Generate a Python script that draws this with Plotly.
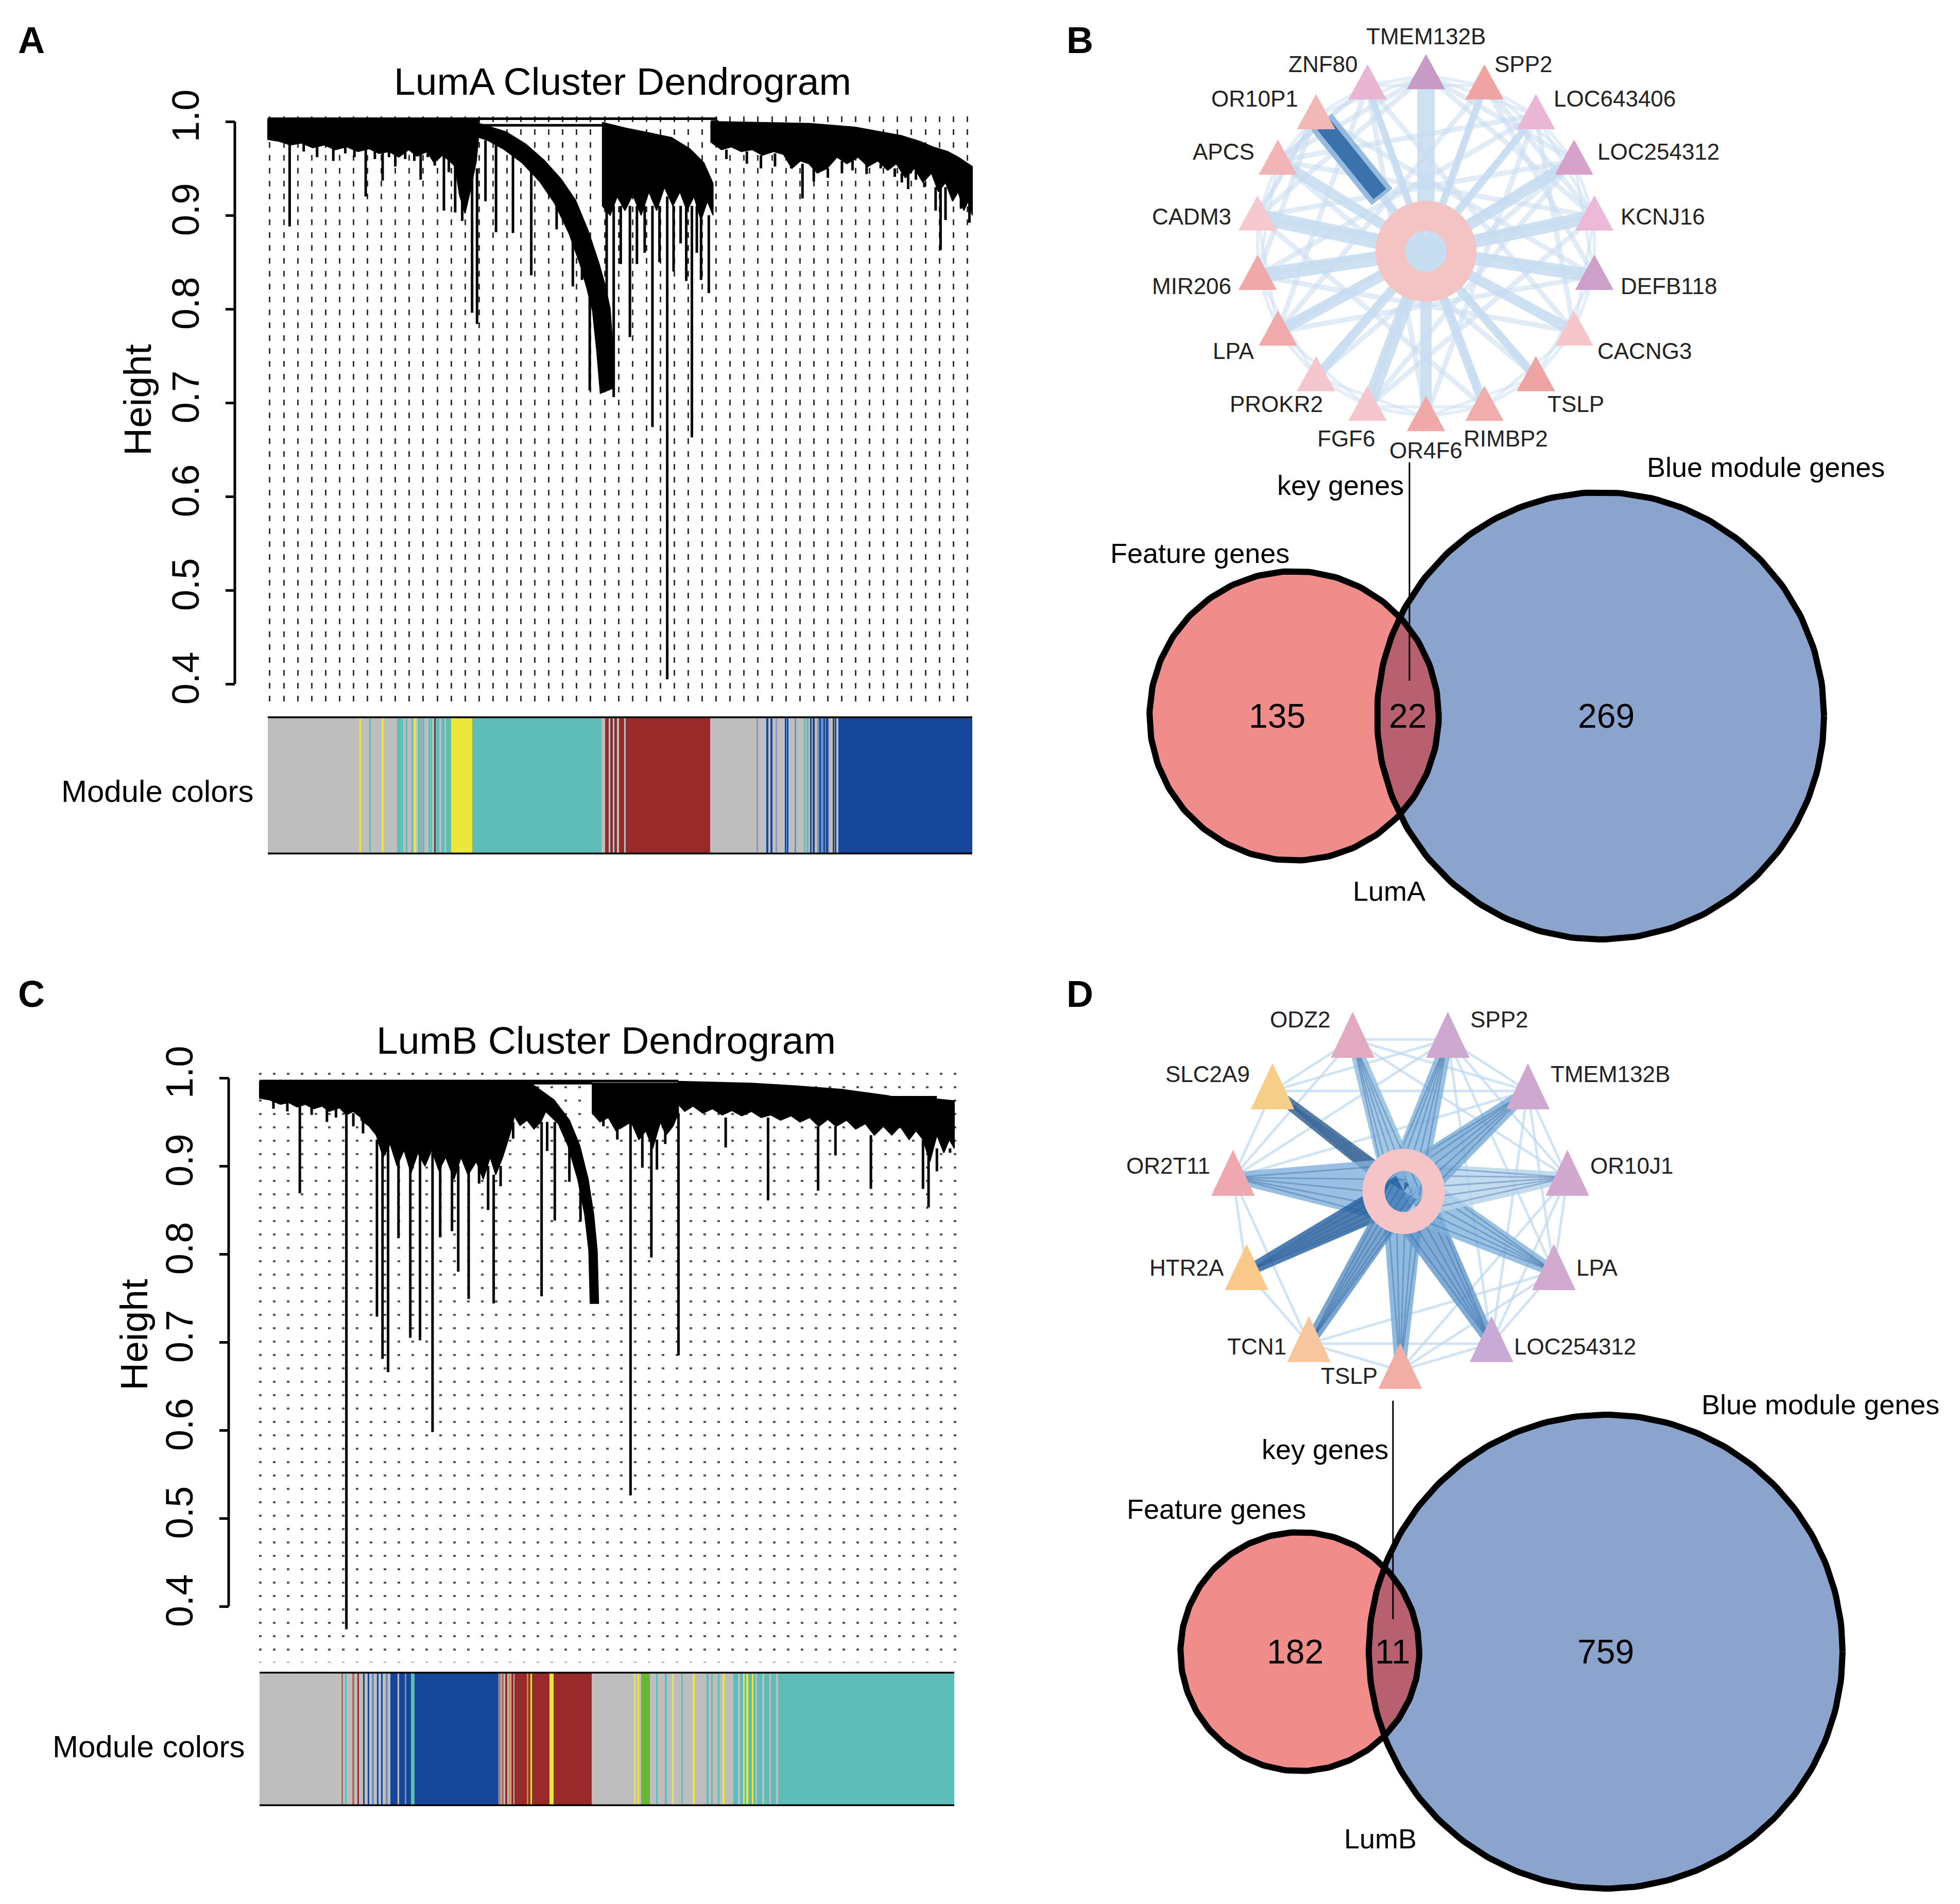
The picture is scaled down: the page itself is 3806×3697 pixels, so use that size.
import numpy as np
import plotly.graph_objects as go

W, H = 3806, 3697
FONT = "Liberation Sans, Arial, Helvetica, sans-serif"

# ======================= DATA =======================
HEIGHT_TICKS = [0.4, 0.5, 0.6, 0.7, 0.8, 0.9, 1.0]
HEIGHT_TICK_TEXT = ["0.4", "0.5", "0.6", "0.7", "0.8", "0.9", "1.0"]

# LumA dendrogram: x = position along ordered genes (0..1), y = height
A_blob_left = [(0.000,1.003),(0.300,1.003),(0.300,0.990),(0.296,0.958),(0.288,0.928),(0.280,0.902),(0.272,0.922),
               (0.266,0.952),(0.258,0.958),(0.248,0.964),(0.236,0.956),(0.226,0.968),(0.212,0.963),(0.200,0.970),
               (0.186,0.962),(0.172,0.968),(0.158,0.966),(0.144,0.971),(0.128,0.968),(0.112,0.973),(0.096,0.970),
               (0.080,0.975),(0.064,0.972),(0.048,0.977),(0.032,0.975),(0.016,0.979),(0.000,0.981)]
A_blob_arc = [(0.300,0.998),(0.338,0.989),(0.366,0.976),(0.392,0.959),(0.416,0.939),(0.437,0.916),(0.455,0.883),
              (0.470,0.849),(0.479,0.825),(0.486,0.800),(0.490,0.756),(0.492,0.716),(0.472,0.710),(0.467,0.755),
              (0.461,0.798),(0.453,0.822),(0.444,0.846),(0.428,0.880),(0.407,0.913),(0.386,0.936),(0.361,0.956),
              (0.336,0.970),(0.312,0.980),(0.300,0.983)]
A_blob_red = [(0.475,0.999),(0.508,0.993),(0.541,0.988),(0.573,0.983),(0.599,0.971),(0.619,0.956),(0.632,0.934),
              (0.632,0.900),(0.624,0.915),(0.615,0.895),(0.605,0.920),(0.595,0.905),(0.585,0.925),(0.575,0.910),
              (0.563,0.930),(0.552,0.905),(0.541,0.925),(0.530,0.900),(0.518,0.922),(0.507,0.905),(0.496,0.920),
              (0.486,0.900),(0.475,0.910)]
A_blob_right = [(0.629,1.000),(0.700,0.999),(0.770,0.998),(0.834,0.994),(0.870,0.989),(0.899,0.985),(0.925,0.979),
                (0.944,0.973),(0.965,0.968),(0.980,0.962),(0.990,0.957),(1.000,0.952),(1.000,0.900),(0.994,0.915),
                (0.988,0.905),(0.980,0.925),(0.972,0.915),(0.962,0.935),(0.952,0.925),(0.942,0.945),(0.930,0.935),
                (0.918,0.950),(0.905,0.940),(0.892,0.955),(0.880,0.948),(0.866,0.958),(0.852,0.952),(0.838,0.962),
                (0.822,0.955),(0.808,0.962),(0.794,0.950),(0.780,0.945),(0.768,0.955),(0.756,0.958),(0.744,0.950),
                (0.732,0.965),(0.718,0.968),(0.702,0.964),(0.688,0.970),(0.672,0.968),(0.658,0.973),(0.644,0.970),
                (0.629,0.978)]
A_drops = [(0.031,0.980,0.888),(0.051,0.978,0.968),(0.070,0.975,0.962),(0.093,0.973,0.958),(0.110,0.975,0.966),
           (0.123,0.974,0.962),(0.139,0.972,0.920),(0.152,0.972,0.960),(0.163,0.970,0.937),(0.172,0.970,0.962),
           (0.181,0.968,0.952),(0.195,0.972,0.960),(0.208,0.970,0.958),(0.217,0.970,0.938),(0.227,0.970,0.962),
           (0.237,0.962,0.953),(0.250,0.965,0.905),(0.257,0.962,0.946),(0.266,0.955,0.903),(0.276,0.930,0.894),
           (0.290,0.950,0.796),(0.297,0.950,0.784),(0.309,0.980,0.915),(0.324,0.975,0.882),
           (0.348,0.968,0.881),(0.374,0.956,0.836),(0.410,0.935,0.885),(0.433,0.912,0.824),(0.446,0.885,0.831),
           (0.457,0.850,0.713),(0.478,0.760,0.722),
           (0.481,0.910,0.755),(0.491,0.910,0.706),(0.501,0.910,0.848),(0.514,0.910,0.770),(0.524,0.910,0.848),
           (0.535,0.910,0.860),(0.546,0.910,0.674),(0.556,0.910,0.850),(0.567,0.920,0.405),(0.576,0.910,0.840),
           (0.586,0.910,0.870),(0.594,0.910,0.830),(0.602,0.910,0.663),(0.609,0.910,0.860),(0.615,0.900,0.831),
           (0.626,0.900,0.817),
           (0.651,0.970,0.960),(0.680,0.968,0.955),(0.700,0.964,0.950),(0.720,0.966,0.952),(0.743,0.960,0.950),
           (0.759,0.955,0.918),(0.775,0.950,0.936),(0.795,0.950,0.940),(0.815,0.958,0.945),(0.830,0.960,0.948),
           (0.850,0.955,0.944),(0.870,0.955,0.950),(0.890,0.950,0.941),(0.900,0.945,0.935),(0.909,0.945,0.928),
           (0.920,0.948,0.938),(0.932,0.935,0.930),(0.948,0.930,0.905),(0.955,0.930,0.863),(0.962,0.930,0.895),
           (0.984,0.920,0.907),(0.996,0.920,0.892)]
A_merges = [(0.000,0.638,1.003),(0.300,0.475,0.996),(0.629,0.640,1.000)]

# LumB dendrogram
C_blob_left = [(0.000,0.9965),(0.146,0.9965),(0.146,0.955),(0.135,0.962),(0.125,0.958),(0.115,0.966),(0.100,0.962),
               (0.090,0.968),(0.078,0.965),(0.066,0.970),(0.054,0.967),(0.042,0.972),(0.030,0.970),(0.015,0.975),
               (0.000,0.977)]
C_blob_dense = [(0.146,0.9965),(0.368,0.9965),(0.368,0.960),(0.360,0.935),(0.350,0.910),(0.340,0.890),(0.332,0.910),
                (0.322,0.885),(0.312,0.905),(0.300,0.890),(0.290,0.910),(0.280,0.885),(0.268,0.910),(0.258,0.895),
                (0.248,0.918),(0.238,0.900),(0.228,0.915),(0.218,0.892),(0.208,0.918),(0.198,0.900),(0.188,0.925),
                (0.178,0.910),(0.168,0.935),(0.158,0.945),(0.146,0.952)]
C_blob_arc = [(0.368,0.9965),(0.394,0.992),(0.424,0.975),(0.446,0.952),(0.461,0.923),(0.473,0.885),(0.481,0.845),
              (0.486,0.804),(0.488,0.744),(0.476,0.744),(0.474,0.804),(0.468,0.845),(0.458,0.885),(0.444,0.923),
              (0.430,0.948),(0.412,0.962),(0.405,0.950),(0.395,0.942),(0.385,0.952),(0.375,0.946),(0.368,0.955)]
C_blob_mid = [(0.479,0.994),(0.603,0.994),(0.603,0.960),(0.595,0.945),(0.585,0.935),(0.577,0.950),(0.566,0.920),
              (0.556,0.940),(0.546,0.930),(0.535,0.950),(0.524,0.945),(0.513,0.940),(0.502,0.955),(0.490,0.950),
              (0.479,0.960)]
C_blob_right = [(0.603,0.996),(0.707,0.994),(0.772,0.991),(0.838,0.987),(0.903,0.980),(0.916,0.978),(0.975,0.976),
                (1.000,0.974),(1.000,0.920),(0.993,0.930),(0.985,0.915),(0.975,0.935),(0.965,0.905),(0.955,0.930),
                (0.945,0.940),(0.935,0.930),(0.922,0.945),(0.910,0.935),(0.898,0.945),(0.885,0.935),(0.872,0.948),
                (0.858,0.942),(0.845,0.952),(0.830,0.945),(0.818,0.953),(0.805,0.945),(0.792,0.955),(0.778,0.950),
                (0.765,0.957),(0.750,0.952),(0.736,0.958),(0.722,0.955),(0.708,0.962),(0.694,0.957),(0.680,0.963),
                (0.666,0.958),(0.652,0.965),(0.638,0.960),(0.624,0.968),(0.612,0.962),(0.603,0.970)]
C_drops = [(0.020,0.975,0.965),(0.040,0.972,0.962),(0.058,0.970,0.869),(0.075,0.968,0.958),(0.097,0.965,0.950),
           (0.110,0.965,0.955),(0.125,0.965,0.374),(0.135,0.960,0.945),(0.149,0.955,0.937),
           (0.169,0.930,0.729),(0.177,0.930,0.681),(0.185,0.930,0.666),(0.200,0.920,0.818),(0.217,0.920,0.705),
           (0.231,0.920,0.702),(0.249,0.915,0.598),(0.260,0.910,0.819),(0.277,0.900,0.826),(0.286,0.900,0.780),
           (0.301,0.900,0.749),(0.316,0.900,0.880),(0.329,0.900,0.850),(0.337,0.890,0.744),(0.347,0.900,0.877),
           (0.365,0.950,0.931),(0.406,0.950,0.752),(0.414,0.950,0.917),(0.425,0.950,0.838),(0.446,0.930,0.882),
           (0.462,0.890,0.837),
           (0.495,0.960,0.945),(0.515,0.950,0.930),(0.534,0.950,0.526),(0.551,0.940,0.898),(0.564,0.930,0.796),
           (0.572,0.930,0.896),(0.584,0.940,0.925),(0.603,0.960,0.685),
           (0.671,0.955,0.921),(0.732,0.955,0.861),(0.804,0.945,0.872),(0.829,0.945,0.912),(0.880,0.935,0.874),
           (0.955,0.930,0.874),(0.963,0.920,0.853),(0.975,0.920,0.894),(0.994,0.920,0.915)]
C_merges = [(0.000,0.603,0.9965),(0.368,0.479,0.994),(0.909,0.975,0.978),(0.948,0.968,0.956)]

# Module colour bars: blocks (start, end, module) and thin stripes (position, module)
MODULE_COLORS = {"grey": "#BEBEBE", "turquoise": "#5FBDB9", "blue": "#17479A", "red": "#9A2A2A",
                 "yellow": "#ECE83B", "green": "#6AB733", "brown": "#B46A60", "orange": "#D08A40",
                 "lightblue": "#6F8FC4", "bluegrey": "#8898BE"}
A_mod_blocks = [(0.000,0.260,"grey"),(0.236,0.260,"turquoise"),(0.260,0.290,"yellow"),(0.290,0.474,"turquoise"),
                (0.474,0.479,"grey"),(0.479,0.628,"red"),(0.628,0.810,"grey"),(0.780,0.797,"lightblue"),
                (0.810,1.000,"blue")]
A_mod_stripes = [(0.131,"yellow"),(0.145,"turquoise"),(0.163,"yellow"),(0.185,"turquoise"),(0.188,"turquoise"),
                 (0.191,"turquoise"),(0.197,"turquoise"),(0.205,"turquoise"),(0.209,"yellow"),(0.215,"turquoise"),
                 (0.218,"turquoise"),(0.221,"turquoise"),(0.229,"turquoise"),(0.232,"turquoise"),(0.237,"red"),
                 (0.245,"grey"),(0.252,"grey"),(0.485,"grey"),(0.491,"grey"),(0.497,"grey"),(0.507,"grey"),
                 (0.695,"bluegrey"),(0.709,"blue"),(0.715,"blue"),(0.722,"bluegrey"),(0.735,"blue"),(0.738,"blue"),
                 (0.749,"lightblue"),(0.762,"turquoise"),(0.766,"turquoise"),(0.771,"blue"),(0.775,"blue"),
                 (0.784,"blue"),(0.790,"blue"),(0.794,"blue"),(0.803,"blue"),(0.806,"blue")]
C_mod_blocks = [(0.000,0.188,"grey"),(0.188,0.218,"blue"),(0.218,0.223,"turquoise"),(0.223,0.344,"blue"),
                (0.344,0.367,"grey"),(0.367,0.478,"red"),(0.417,0.423,"yellow"),(0.478,0.549,"grey"),
                (0.549,0.562,"green"),(0.562,0.682,"grey"),(0.682,1.000,"turquoise")]
C_mod_stripes = [(0.119,"brown"),(0.124,"turquoise"),(0.135,"brown"),(0.142,"red"),(0.150,"blue"),(0.157,"blue"),
                 (0.163,"lightblue"),(0.170,"blue"),(0.176,"blue"),(0.183,"lightblue"),(0.200,"grey"),
                 (0.210,"lightblue"),(0.346,"brown"),(0.350,"brown"),(0.355,"red"),(0.360,"orange"),(0.364,"red"),
                 (0.386,"orange"),(0.391,"yellow"),(0.540,"yellow"),(0.545,"yellow"),(0.572,"turquoise"),
                 (0.585,"turquoise"),(0.595,"yellow"),(0.608,"turquoise"),(0.625,"yellow"),(0.645,"turquoise"),
                 (0.651,"turquoise"),(0.661,"turquoise"),(0.668,"yellow"),(0.690,"grey"),(0.697,"yellow"),
                 (0.702,"yellow"),(0.710,"yellow"),(0.715,"grey"),(0.725,"grey"),(0.735,"grey"),(0.745,"grey")]

# Network B (LumA key genes), clockwise from top
B_genes = ["TMEM132B","SPP2","LOC643406","LOC254312","KCNJ16","DEFB118","CACNG3","TSLP","RIMBP2",
           "OR4F6","FGF6","PROKR2","LPA","MIR206","CADM3","APCS","OR10P1","ZNF80"]
B_node_colors = ["#C89BC6","#F0A3A3","#E9B6D5","#D6A1CB","#EDB9D9","#CCA0C8","#F5C6CA","#EFA3A3","#F1ACAC",
                 "#F0A8A8","#F5C6CE","#F5C6CE","#F0AAAA","#F0A8A8","#F5C9CD","#F2B5B5","#F2B8B8","#E9B5D2"]
B_hub_weight = [34,14,14,22,26,26,20,16,18,22,26,18,22,28,30,20,14,14]
B_cross = [("TMEM132B","LOC254312"),("TMEM132B","KCNJ16"),("TMEM132B","CADM3"),("TMEM132B","APCS"),
           ("SPP2","KCNJ16"),("SPP2","LPA"),("SPP2","DEFB118"),("LOC643406","CACNG3"),("LOC643406","MIR206"),
           ("LOC643406","APCS"),("LOC254312","LPA"),("LOC254312","CADM3"),("LOC254312","PROKR2"),
           ("KCNJ16","APCS"),("KCNJ16","MIR206"),("KCNJ16","FGF6"),("DEFB118","CADM3"),("DEFB118","OR10P1"),
           ("DEFB118","LPA"),("CACNG3","MIR206"),("CACNG3","ZNF80"),("TSLP","APCS"),("TSLP","OR10P1"),
           ("RIMBP2","ZNF80"),("RIMBP2","CADM3"),("OR4F6","ZNF80"),("OR4F6","LOC643406"),("FGF6","SPP2"),
           ("FGF6","LOC254312"),("PROKR2","LOC643406"),("LPA","ZNF80"),("MIR206","OR10P1"),
           ("CADM3","OR10P1"),("APCS","ZNF80")]
B_strong = ["OR10P1"]

# Network D (LumB key genes), counter-clockwise from bottom
D_genes = ["TSLP","LOC254312","LPA","OR10J1","TMEM132B","SPP2","ODZ2","SLC2A9","OR2T11","HTR2A","TCN1"]
D_node_colors = ["#F2ADA5","#C9A9D5","#D2A9CF","#D3A8CE","#CFA8D0","#CFA8D0","#E2A9C0","#F7CE88","#EFA8B0",
                 "#F8C98A","#F7C59E"]
D_hub_weight = [0.13,0.15,0.15,0.17,0.14,0.12,0.11,0.05,0.20,0.10,0.09]
D_hub_colors = ["#74AAD8","#5F97CC","#80B2DC","#B5D3EC","#76AAD8","#7FB1DB","#8CBBE0","#2C5B8E","#80B1DB",
                "#235F9E","#5790C6"]
D_cross = [("ODZ2","SPP2"),("ODZ2","TMEM132B"),("SPP2","TMEM132B"),("SPP2","OR10J1"),("SPP2","LPA"),
           ("TMEM132B","OR10J1"),("TMEM132B","LPA"),("TMEM132B","LOC254312"),("OR10J1","LPA"),
           ("OR10J1","LOC254312"),("OR10J1","TSLP"),("LPA","LOC254312"),("LPA","TCN1"),("LPA","TSLP"),
           ("TCN1","LOC254312"),("TSLP","LOC254312"),("TSLP","TCN1"),("OR2T11","SLC2A9"),("OR2T11","ODZ2"),
           ("OR2T11","SPP2"),("OR2T11","HTR2A"),("OR2T11","TMEM132B"),("OR2T11","TCN1"),("SLC2A9","ODZ2"),
           ("SLC2A9","SPP2"),("SLC2A9","TMEM132B"),("HTR2A","TCN1"),("ODZ2","OR10J1"),("SPP2","LOC254312")]

# Venn counts
VENN_B = {"feature_only": 135, "both": 22, "module_only": 269, "group": "LumA"}
VENN_D = {"feature_only": 182, "both": 11, "module_only": 759, "group": "LumB"}

# ======================= FIGURE =======================
fig = go.Figure()
annotations = []
shapes = []


def xdom(a, b):
    return [a / W, b / W]


def ydom(top, bottom):
    return [1 - bottom / H, 1 - top / H]


def ax_name(n, kind):
    return kind if n == 1 else f"{kind}{n}"


def ref(n, kind):
    return kind if n == 1 else f"{kind}{n}"


def hidden_axes(n, xd, yd, xr, yr):
    fig.layout[ax_name(n, "xaxis")] = dict(domain=xd, range=xr, visible=False, anchor=ref(n, "y"),
                                           fixedrange=True, automargin=False)
    fig.layout[ax_name(n, "yaxis")] = dict(domain=yd, range=yr, visible=False, anchor=ref(n, "x"),
                                           fixedrange=True, automargin=False)


# ---------- dendrogram panels ----------
def dendro_panel(n, leaf_px, h_px, dom_x_px, dom_y_px, axis_x_px, blobs, drops, merges, grid):
    l0, l1 = leaf_px
    top1, bot04 = h_px  # pixel of h=1.0 and h=0.4
    fx = lambda p: (p - l0) / (l1 - l0)
    fh = lambda p: 1.0 - (p - top1) / (bot04 - top1) * 0.6
    fig.layout[ax_name(n, "xaxis")] = dict(
        domain=xdom(*dom_x_px), range=[fx(dom_x_px[0]), fx(dom_x_px[1])], anchor=ref(n, "y"),
        showticklabels=False, ticks="", showline=False, zeroline=False, fixedrange=True, automargin=False,
        showgrid=True, tick0=grid["tick0"], dtick=grid["dtick"], gridcolor=grid["color"],
        gridwidth=grid["width"], griddash=grid["dash"])
    fig.layout[ax_name(n, "yaxis")] = dict(
        domain=ydom(*dom_y_px), range=[fh(dom_y_px[1]), fh(dom_y_px[0])], anchor="free",
        position=axis_x_px / W, showgrid=False, zeroline=False, showline=False, fixedrange=True,
        automargin=False, ticks="outside", ticklen=18, tickwidth=5, tickcolor="black",
        tickvals=HEIGHT_TICKS, ticktext=HEIGHT_TICK_TEXT, tickangle=-90,
        tickfont=dict(size=74, family=FONT, color="black"), ticklabelstandoff=22)
    shapes.append(dict(type="line", xref="paper", yref=ref(n, "y"), x0=axis_x_px / W, x1=axis_x_px / W,
                       y0=0.4, y1=1.0, line=dict(color="black", width=5), layer="above"))
    for poly in blobs:
        xs = [p[0] for p in poly] + [poly[0][0]]
        ys = [p[1] for p in poly] + [poly[0][1]]
        fig.add_trace(go.Scatter(x=xs, y=ys, mode="lines", fill="toself", fillcolor="black",
                                 line=dict(color="black", width=2), xaxis=ref(n, "x"), yaxis=ref(n, "y"),
                                 hoverinfo="skip"))
    xs, ys = [], []
    for f, t, b in drops:
        xs += [f, f, None]
        ys += [t, b, None]
    fig.add_trace(go.Scatter(x=xs, y=ys, mode="lines", line=dict(color="black", width=5),
                             xaxis=ref(n, "x"), yaxis=ref(n, "y"), hoverinfo="skip"))
    xs, ys = [], []
    for a, b, h in merges:
        xs += [a, b, None]
        ys += [h, h, None]
    fig.add_trace(go.Scatter(x=xs, y=ys, mode="lines", line=dict(color="black", width=5),
                             xaxis=ref(n, "x"), yaxis=ref(n, "y"), hoverinfo="skip"))


def color_bar(n, leaf_px, dom_x_px, dom_y_px, blocks, stripes):
    l0, l1 = leaf_px
    fx = lambda p: (p - l0) / (l1 - l0)
    hidden_axes(n, xdom(*dom_x_px), ydom(*dom_y_px), [fx(dom_x_px[0]), fx(dom_x_px[1])], [-0.5, 0.5])
    starts = [b[0] for b in blocks] + [s[0] - 0.00125 for s in stripes]
    widths = [b[1] - b[0] for b in blocks] + [0.0025 for s in stripes]
    cols = [MODULE_COLORS[b[2]] for b in blocks] + [MODULE_COLORS[s[1]] for s in stripes]
    fig.add_trace(go.Bar(y=[0] * len(starts), x=widths, base=starts, orientation="h", width=1.0,
                         marker=dict(color=cols, line=dict(width=0)), xaxis=ref(n, "x"), yaxis=ref(n, "y"),
                         hoverinfo="skip"))
    for yv in (0.5, -0.5):
        shapes.append(dict(type="line", xref=ref(n, "x"), yref=ref(n, "y"), x0=0, x1=1, y0=yv, y1=yv,
                           line=dict(color="black", width=7), layer="above"))


gridA = dict(tick0=0.0227, dtick=0.0198, color="#333333", width=3, dash="11px,14px")
gridC = dict(tick0=0.0208, dtick=0.0200, color="#555555", width=5, dash="4px,22px")

dendro_panel(1, (520, 1888), (236, 1328), (515, 1893), (226, 1376), 456,
             [A_blob_left, A_blob_arc, A_blob_red, A_blob_right], A_drops, A_merges, gridA)
color_bar(2, (520, 1888), (520, 1888), (1391, 1659), A_mod_blocks, A_mod_stripes)
dendro_panel(3, (504, 1853), (2093, 3119), (499, 1858), (2083, 3228), 444,
             [C_blob_left, C_blob_dense, C_blob_arc, C_blob_mid, C_blob_right], C_drops, C_merges, gridC)
color_bar(4, (504, 1853), (504, 1853), (3246, 3507), C_mod_blocks, C_mod_stripes)


# ---------- network panels ----------
def network_axes(n, cx, cy, s, xr, yr):
    xd = xdom(cx + xr[0] * s, cx + xr[1] * s)
    yd = ydom(cy - yr[1] * s, cy - yr[0] * s)
    hidden_axes(n, xd, yd, list(xr), list(yr))


def triangle(n, x, y, w, h, color):
    xs = [x - w / 2, x + w / 2, x, x - w / 2]
    ys = [y - 0.4 * h, y - 0.4 * h, y + 0.6 * h, y - 0.4 * h]
    fig.add_trace(go.Scatter(x=xs, y=ys, mode="lines", fill="toself", fillcolor=color,
                             line=dict(color=color, width=1), xaxis=ref(n, "x"), yaxis=ref(n, "y"),
                             hoverinfo="skip"))


# Network B
nB = 5
sB = 332.0
network_axes(nB, 2769, 478, sB, (-1.75, 1.75), (-1.43, 1.43))
B_hub = (0.0, -0.03)
angB = np.deg2rad(90 - np.arange(len(B_genes)) * 360.0 / len(B_genes))
B_pos = {g: (np.cos(a), np.sin(a)) for g, a in zip(B_genes, angB)}
xs, ys = [], []
for k in range(len(B_genes)):
    for step in (1, 2):
        a, b = B_pos[B_genes[k]], B_pos[B_genes[(k + step) % len(B_genes)]]
        xs += [a[0], b[0], None]
        ys += [a[1], b[1], None]
fig.add_trace(go.Scatter(x=xs, y=ys, mode="lines", line=dict(color="rgba(205,224,242,0.55)", width=6),
                         xaxis="x5", yaxis="y5", hoverinfo="skip"))
xs, ys = [], []
for g1, g2 in B_cross:
    a, b = B_pos[g1], B_pos[g2]
    xs += [a[0], b[0], None]
    ys += [a[1], b[1], None]
fig.add_trace(go.Scatter(x=xs, y=ys, mode="lines", line=dict(color="rgba(200,221,240,0.55)", width=10),
                         xaxis="x5", yaxis="y5", hoverinfo="skip"))
for g, wgt in zip(B_genes, B_hub_weight):
    p = B_pos[g]
    fig.add_trace(go.Scatter(x=[B_hub[0], p[0]], y=[B_hub[1], p[1]], mode="lines",
                             line=dict(color="rgba(198,220,240,0.85)", width=wgt),
                             xaxis="x5", yaxis="y5", hoverinfo="skip"))
for g in B_strong:
    p = np.array(B_pos[g])
    hub = np.array(B_hub)
    for (t0, t1, col, wd) in ((0.05, 0.60, "rgba(140,180,218,0.9)", 52), (0.07, 0.58, "#3A73AC", 32)):
        q0 = p + (hub - p) * t0
        q1 = p + (hub - p) * t1
        fig.add_trace(go.Scatter(x=[q0[0], q1[0]], y=[q0[1], q1[1]], mode="lines",
                                 line=dict(color=col, width=wd), xaxis="x5", yaxis="y5", hoverinfo="skip"))
for g, c in zip(B_genes, B_node_colors):
    triangle(nB, *B_pos[g], 73 / sB, 67 / sB, c)
rB_mid, rB_th = 69 / sB, 58
shapes.append(dict(type="circle", xref="x5", yref="y5", x0=B_hub[0] - rB_mid, x1=B_hub[0] + rB_mid,
                   y0=B_hub[1] - rB_mid, y1=B_hub[1] + rB_mid, line=dict(color="#F4C3C4", width=rB_th),
                   layer="above"))
for g, a in zip(B_genes, angB):
    ux, uy = np.cos(a), np.sin(a)
    x, y = B_pos[g]
    if uy < 0 and abs(ux) < 0.7:          # lower arc: label centred under the node
        lx, dy_px, xa = ux * 120, -55 * uy + 10, "center"
    elif abs(ux) < 0.2:                   # top node: label centred above
        lx, dy_px, xa = 0.0, -75, "center"
    else:                                 # sides: label beside the node
        lx, dy_px, xa = ux * 50, -55 * uy + 10, ("left" if ux > 0 else "right")
    annotations.append(dict(x=x + lx / sB, y=y - dy_px / sB, xref="x5", yref="y5", text=g,
                            showarrow=False, xanchor=xa, yanchor="middle",
                            font=dict(size=44, family=FONT, color="#222222")))

# Network D
nD = 7
sD = 328.0
network_axes(nD, 2719, 2333, sD, (-1.7, 1.7), (-1.3, 1.45))
D_hub = (0.02, 0.06)
angD = np.deg2rad(-90 + np.arange(len(D_genes)) * 360.0 / len(D_genes))
D_pos = {g: (np.cos(a), np.sin(a)) for g, a in zip(D_genes, angD)}
xs, ys = [], []
for g1, g2 in D_cross:
    a, b = D_pos[g1], D_pos[g2]
    xs += [a[0], b[0], None]
    ys += [a[1], b[1], None]
fig.add_trace(go.Scatter(x=xs, y=ys, mode="lines", line=dict(color="rgba(190,216,238,0.7)", width=5),
                         xaxis="x7", yaxis="y7", hoverinfo="skip"))
for g, wc, col in zip(D_genes, D_hub_weight, D_hub_colors):
    P = np.array(D_pos[g])
    C = np.array(D_hub)
    d = (P - C) / np.linalg.norm(P - C)
    nrm = np.array([-d[1], d[0]])
    wn = 0.03
    poly = [P + nrm * wn, P - nrm * wn, C - nrm * wc, C + nrm * wc, P + nrm * wn]
    fig.add_trace(go.Scatter(x=[q[0] for q in poly], y=[q[1] for q in poly], mode="lines", fill="toself",
                             fillcolor=col, opacity=0.8, line=dict(color=col, width=1),
                             xaxis="x7", yaxis="y7", hoverinfo="skip"))
    xs, ys = [], []
    for t in (-0.8, -0.35, 0.1, 0.55, 0.9):
        q = C + nrm * wc * t
        xs += [P[0], q[0], None]
        ys += [P[1], q[1], None]
    fig.add_trace(go.Scatter(x=xs, y=ys, mode="lines", line=dict(color="rgba(40,90,150,0.35)", width=3),
                             xaxis="x7", yaxis="y7", hoverinfo="skip"))
for g, c in zip(D_genes, D_node_colors):
    triangle(nD, *D_pos[g], 83 / sD, 88 / sD, c)
rD_mid, rD_th = 58.5 / sD, 43
shapes.append(dict(type="circle", xref="x7", yref="y7", x0=D_hub[0] - rD_mid, x1=D_hub[0] + rD_mid,
                   y0=D_hub[1] - rD_mid * 1.05, y1=D_hub[1] + rD_mid * 1.05,
                   line=dict(color="#F4C4C6", width=rD_th), layer="above"))
for g, a in zip(D_genes, angD):
    ux, uy = np.cos(a), np.sin(a)
    x, y = D_pos[g]
    left_side = ux < 0.01
    dy = (20 + 20 * max(0.0, uy) - 30 * max(0.0, -uy)) / sD
    annotations.append(dict(x=x + (-42 if left_side else 42) / sD, y=y + dy, xref="x7", yref="y7", text=g,
                            showarrow=False, xanchor="right" if left_side else "left", yanchor="middle",
                            font=dict(size=44, family=FONT, color="#222222")))


# ---------- Venn panels ----------
def circle_xy(cx, cy, r, n=240):
    t = np.linspace(0, 2 * np.pi, n)
    return cx + r * np.cos(t), cy + r * np.sin(t)


def venn_panel(n, cx, cy, s, xr, yr, geo, counts, text_pos, line_y):
    xd = xdom(cx + xr[0] * s, cx + xr[1] * s)
    yd = ydom(cy - yr[1] * s, cy - yr[0] * s)
    hidden_axes(n, xd, yd, list(xr), list(yr))
    x1, r1 = geo["left_x"], geo["left_r"]
    xa, ya = ref(n, "x"), ref(n, "y")
    lx, ly = circle_xy(x1, 0, r1)
    rx, ry = circle_xy(0, 0, 1.0)
    fig.add_trace(go.Scatter(x=lx, y=ly, mode="lines", fill="toself", fillcolor="#F08C8A",
                             line=dict(width=0, color="#F08C8A"), xaxis=xa, yaxis=ya, hoverinfo="skip"))
    fig.add_trace(go.Scatter(x=rx, y=ry, mode="lines", fill="toself", fillcolor="#8BA4CD",
                             line=dict(width=0, color="#8BA4CD"), xaxis=xa, yaxis=ya, hoverinfo="skip"))
    dd = abs(x1)
    a = (dd ** 2 + r1 ** 2 - 1.0) / (2 * dd)
    yi = np.sqrt(r1 ** 2 - a ** 2)
    phi1 = np.arctan2(yi, a)
    phi2 = np.arctan2(yi, dd - a)
    t1 = np.linspace(-phi1, phi1, 80)
    t2 = np.linspace(np.pi - phi2, np.pi + phi2, 80)
    lens_x = list(x1 + r1 * np.cos(t1)) + list(np.cos(t2))
    lens_y = list(r1 * np.sin(t1)) + list(np.sin(t2))
    fig.add_trace(go.Scatter(x=lens_x + [lens_x[0]], y=lens_y + [lens_y[0]], mode="lines", fill="toself",
                             fillcolor="#B8606F", line=dict(width=0, color="#B8606F"),
                             xaxis=xa, yaxis=ya, hoverinfo="skip"))
    for xx, yy in ((lx, ly), (rx, ry)):
        fig.add_trace(go.Scatter(x=xx, y=yy, mode="lines", line=dict(color="black", width=12),
                                 xaxis=xa, yaxis=ya, hoverinfo="skip"))
    fig.add_trace(go.Scatter(x=[text_pos["line_x"], text_pos["line_x"]], y=list(line_y), mode="lines",
                             line=dict(color="black", width=3), xaxis=xa, yaxis=ya, hoverinfo="skip"))
    nums = [(counts["feature_only"], text_pos["n1"]), (counts["both"], text_pos["n2"]),
            (counts["module_only"], text_pos["n3"])]
    for v, (px_, py_) in nums:
        annotations.append(dict(x=px_, y=py_, xref=xa, yref=ya, text=str(v), showarrow=False,
                                font=dict(size=66, family=FONT, color="black")))
    for txt, key, anchor in (("Feature genes", "feat", "center"), ("Blue module genes", "mod", "center"),
                             ("key genes", "key", "right"), (counts["group"], "grp", "center")):
        px_, py_ = text_pos[key]
        annotations.append(dict(x=px_, y=py_, xref=xa, yref=ya, text=txt, showarrow=False, xanchor=anchor,
                                font=dict(size=54, family=FONT, color="black")))


venn_panel(6, 3108, 1390, 434.0, (-2.15, 1.25), (-1.12, 1.3),
           dict(left_x=-1.371, left_r=0.647), VENN_B,
           dict(n1=(-1.447, 0.0), n2=(-0.862, 0.0), n3=(0.025, 0.0), feat=(-1.793, 0.728),
                mod=(0.740, 1.113), key=(-0.875, 1.032), grp=(-0.947, -0.783), line_x=-0.855),
           (1.134, 0.157))
venn_panel(8, 3118, 3207, 460.0, (-2.0, 1.2), (-1.05, 1.25),
           dict(left_x=-1.291, left_r=0.504), VENN_D,
           dict(n1=(-1.311, 0.0), n2=(-0.900, 0.0), n3=(0.0, 0.0), feat=(-1.643, 0.602),
                mod=(0.907, 1.043), key=(-0.912, 0.854), grp=(-0.952, -0.789), line_x=-0.898),
           (1.059, 0.137))


# ---------- text labels ----------
def paper_text(x, y, text, size, angle=0, xanchor="center", bold=False):
    annotations.append(dict(x=x / W, y=1 - y / H, xref="paper", yref="paper",
                            text=f"<b>{text}</b>" if bold else text, showarrow=False, textangle=angle,
                            xanchor=xanchor, yanchor="middle", font=dict(size=size, family=FONT, color="black")))


paper_text(61, 78, "A", 72, bold=True)
paper_text(2097, 78, "B", 72, bold=True)
paper_text(61, 1930, "C", 72, bold=True)
paper_text(2097, 1930, "D", 72, bold=True)
paper_text(1209, 158, "LumA Cluster Dendrogram", 75)
paper_text(1177, 2020, "LumB Cluster Dendrogram", 75)
paper_text(267, 777, "Height", 75, angle=-90)
paper_text(260, 2592, "Height", 75, angle=-90)
paper_text(495, 1536, "Module colors", 60, xanchor="right")
paper_text(478, 3391, "Module colors", 60, xanchor="right")

fig.update_layout(width=W, height=H,
                  margin=dict(l=0, r=0, t=0, b=0, pad=0, autoexpand=False),
                  paper_bgcolor="white", plot_bgcolor="rgba(0,0,0,0)", showlegend=False,
                  barmode="overlay", bargap=0, font=dict(family=FONT, color="black"),
                  annotations=annotations, shapes=shapes)
fig.write_html("out.html", config={"displayModeBar": False},
               post_script="document.body.style.margin='0px';document.body.style.padding='0px';")
